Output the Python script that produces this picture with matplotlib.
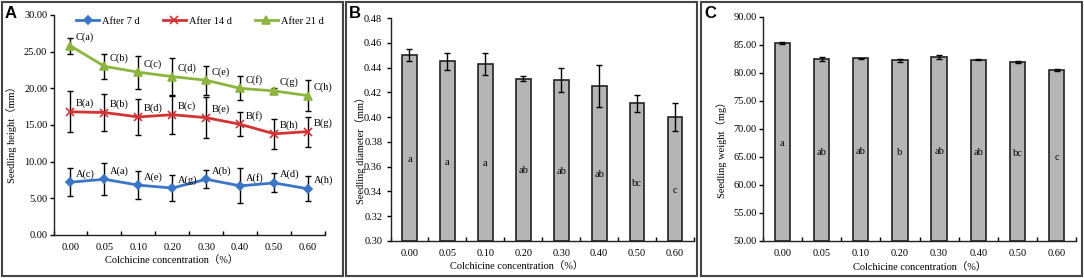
import numpy as np
import matplotlib
matplotlib.use('Agg')
import matplotlib.pyplot as plt
from matplotlib.patches import Rectangle

plt.rcParams['font.family'] = ['Liberation Serif', 'Noto Sans CJK SC']
plt.rcParams['font.size'] = 7.5

conc = ['0.00', '0.05', '0.10', '0.20', '0.30', '0.40', '0.50', '0.60']

# panel A - seedling height (mm)
h7 = [7.2, 7.6, 6.8, 6.4, 7.6, 6.7, 7.1, 6.3]
h7_err = [1.9, 2.2, 1.9, 1.8, 1.2, 2.4, 1.3, 1.7]
h7_lab = ['A(c)', 'A(a)', 'A(e)', 'A(g)', 'A(b)', 'A(f)', 'A(d)', 'A(h)']
h14 = [16.8, 16.7, 16.1, 16.4, 16.0, 15.1, 13.8, 14.1]
h14_err = [2.8, 2.5, 2.4, 2.6, 2.8, 1.65, 2.05, 2.05]
h14_lab = ['B(a)', 'B(b)', 'B(d)', 'B(c)', 'B(e)', 'B(f)', 'B(h)', 'B(g)']
h21 = [25.8, 23.0, 22.2, 21.6, 21.1, 20.0, 19.65, 19.0]
h21_err = [1.1, 1.7, 2.25, 2.5, 1.95, 1.65, 0.35, 2.15]
h21_lab = ['C(a)', 'C(b)', 'C(c)', 'C(d)', 'C(e)', 'C(f)', 'C(g)', 'C(h)']

# panel B - seedling diameter (mm)
diam = [0.450, 0.445, 0.443, 0.431, 0.430, 0.425, 0.411, 0.400]
diam_err = [0.005, 0.007, 0.009, 0.002, 0.0095, 0.017, 0.007, 0.011]
diam_lab = ['a', 'a', 'a', 'ab', 'ab', 'ab', 'bc', 'c']

# panel C - seedling weight (mg)
wt = [85.4, 82.5, 82.6, 82.3, 82.8, 82.4, 82.0, 80.6]
wt_err = [0.2, 0.35, 0.1, 0.25, 0.35, 0.1, 0.15, 0.2]
wt_lab = ['a', 'ab', 'ab', 'b', 'ab', 'ab', 'bc', 'c']

W, H = 1084, 278
fig = plt.figure(figsize=(W / 100, H / 100), dpi=100)


def px_axes(l, r, t, b):
    return fig.add_axes([l / W, 1 - b / H, (r - l) / W, (b - t) / H])


def style_axes(ax, ylim, ystep, ylabel, ypad):
    x = np.arange(len(conc))
    ax.set_xlim(-0.5, len(conc) - 0.5)
    ax.set_ylim(*ylim)
    ax.set_yticks(np.arange(ylim[0], ylim[1] + ystep / 2, ystep))
    ax.yaxis.set_major_formatter(matplotlib.ticker.FormatStrFormatter('%.2f'))
    ax.set_xticks(np.arange(-0.5, len(conc), 1))
    ax.set_xticklabels([])
    ax.set_xticks(x, minor=True)
    ax.set_xticklabels(conc, minor=True)
    ax.tick_params(axis='x', which='major', direction='in', length=3, width=1)
    ax.tick_params(axis='x', which='minor', length=0, pad=6)
    ax.tick_params(axis='y', direction='out', length=3, width=1, pad=ypad)
    for s in ['top', 'right']:
        ax.spines[s].set_visible(False)
    for s in ['left', 'bottom']:
        ax.spines[s].set_linewidth(1)
        ax.spines[s].set_color('#222222')
    ax.set_ylabel(ylabel)
    ax.set_xlabel('Colchicine concentration（%）', labelpad=3)


# ---- A ----
axA = px_axes(53.5, 325, 15, 235)
x = np.arange(len(conc))
series = [
    (h7, h7_err, h7_lab, '#3b75c6', 'D', 4.5, 'After 7 d'),
    (h14, h14_err, h14_lab, '#d03434', 'x', 6, 'After 14 d'),
    (h21, h21_err, h21_lab, '#8db43e', '^', 6, 'After 21 d'),
]
for vals, errs, labs, col, mk, ms, name in series:
    axA.errorbar(x, vals, yerr=errs, fmt='none', ecolor='black', elinewidth=1,
                 capsize=2.5, capthick=1, zorder=2)
    axA.plot(x, vals, color=col, marker=mk, markersize=ms, lw=2,
             mew=1.2, label=name, zorder=3)
    for xi, v, lab in zip(x, vals, labs):
        axA.annotate(lab, (xi, v), xytext=(4, 6), textcoords='offset points',
                     ha='left', va='center', fontsize=7.5)
style_axes(axA, (0, 30), 5, 'Seedling height（mm）', 1.5)
axA.yaxis.set_label_coords(-0.134, 0.47)
axA.xaxis.set_label_coords(0.436, -0.09)
axA.legend(loc='center', bbox_to_anchor=(0.54, 0.973), ncol=3, frameon=False,
           handlelength=2.2, handletextpad=0.3, columnspacing=2.2, fontsize=7.5)


def bar_panel(ax, vals, errs, labs, ylim, ystep, ylabel, dy, ypad):
    ax.bar(x, np.array(vals) - ylim[0], bottom=ylim[0], width=0.39,
           color='#b5b5b5', edgecolor='#222222', linewidth=1.2, zorder=2)
    ax.errorbar(x, vals, yerr=errs, fmt='none', ecolor='black', elinewidth=1,
                capsize=2.5, capthick=1, zorder=3)
    for xi, v, lab in zip(x, vals, labs):
        ax.annotate(lab, (xi, (v + ylim[0]) / 2), xytext=(0, dy),
                    textcoords='offset points', ha='center', va='center',
                    fontsize=7.5)
    style_axes(ax, ylim, ystep, ylabel, ypad)


# ---- B ----
axB = px_axes(390.5, 694, 18, 241)
bar_panel(axB, diam, diam_err, diam_lab, (0.30, 0.48), 0.02,
          'Seedling diameter（mm）', -8, 3)
axB.yaxis.set_label_coords(-0.081, 0.42)
axB.xaxis.set_label_coords(0.417, -0.09)

# ---- C ----
axC = px_axes(762.7, 1076.3, 17, 241)
bar_panel(axC, wt, wt_err, wt_lab, (50, 90), 5,
          'Seedling weight（mg）', -1.5, 1.5)
axC.yaxis.set_label_coords(-0.114, 0.42)

# panel frames and letters
for l, r, letter in [(2, 343, 'A'), (346, 697, 'B'), (701, 1082, 'C')]:
    fig.patches.append(Rectangle((l / W, 2 / H), (r - l) / W, (H - 4) / H,
                                 transform=fig.transFigure, fill=False,
                                 edgecolor='#444444', linewidth=1.5))
    fig.text((l + 3) / W, 1 - 6 / H, letter, family='Liberation Sans',
             fontweight='bold', fontsize=12, ha='left', va='top')

fig.savefig('out.png', dpi=100)
